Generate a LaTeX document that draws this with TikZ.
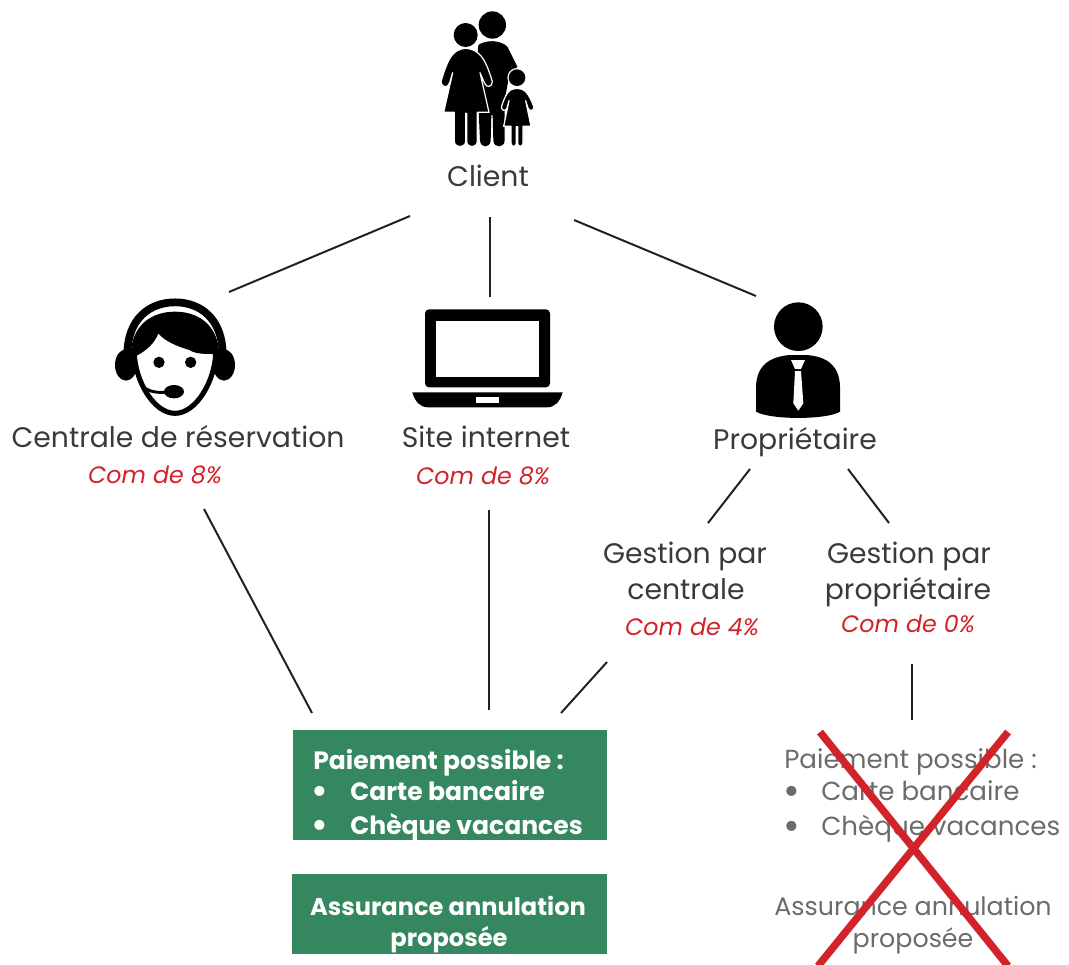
\documentclass[tikz,border=0pt]{standalone}
\usepackage{fontspec}
\setmainfont{Poppins}
\definecolor{boxgreen}{HTML}{34875F}
\definecolor{comred}{HTML}{D2232A}
\definecolor{txtgray}{HTML}{6B6B6B}
\definecolor{txtdark}{HTML}{3A3A3A}
\definecolor{linkdark}{HTML}{222222}
\tikzset{
	txt/.style={anchor=base,inner sep=0pt,font=\fontsize{21.2}{24}\selectfont,text=txtdark},
	com/.style={anchor=base,inner sep=0pt,font=\fontsize{17.8}{20}\selectfont\itshape,text=comred},
	boxtxt/.style={anchor=base,inner sep=0pt,font=\fontsize{18.1}{22}\selectfont\bfseries,text=white},
	boxleft/.style={boxtxt,anchor=base west,font=\fontsize{18.8}{22}\selectfont\bfseries},
	boxdot/.style={boxtxt,font=\fontsize{25}{28}\selectfont\bfseries},
	offtxt/.style={anchor=base,inner sep=0pt,font=\fontsize{19}{22}\selectfont,text=txtgray},
	offleft/.style={offtxt,anchor=base west,font=\fontsize{19.6}{22}\selectfont},
	offdot/.style={offtxt,font=\fontsize{25}{28}\selectfont\bfseries},
	link/.style={draw=linkdark,line width=1.5pt},
	halo/.style={fill=black,draw=white,line width=0.9pt}
}
\begin{document}
\begin{tikzpicture}[x=0.75pt,y=-0.75pt,line join=round]
	\useasboundingbox (0,0) rectangle (1069,964);
	% client
	\begin{scope}[shift={(400,0)},scale=1/3]
		\fill (277,75) circle (41);
		\fill (235,135) .. controls (255,120) and (300,118) .. (322,140) -- (352,200) -- (328,225) -- (314,300)
		-- (314,422) .. controls (312,445) and (282,445) .. (280,422) -- (278,345) -- (274,345) -- (272,422)
		.. controls (270,445) and (242,445) .. (240,422) -- (230,200) -- cycle;
		\fill[white] (197,105) circle (41);
		\fill (197,105) circle (36);
		\path[halo] (197,145) .. controls (160,148) and (145,170) .. (123,245)
		.. controls (126,265) and (144,265) .. (149,248) -- (158,218) -- (131,337) -- (163,337) -- (163,425)
		.. controls (165,445) and (195,445) .. (197,425) -- (197,340) -- (200,340) -- (200,425)
		.. controls (202,445) and (230,445) .. (232,425) -- (232,337) -- (267,337) -- (240,218) -- (253,248)
		.. controls (258,265) and (277,262) .. (277,245) .. controls (255,170) and (235,148) .. (197,145) -- cycle;
		\fill[white] (351,233) circle (29);
		\fill (351,233) circle (25);
		\path[halo] (351,265) .. controls (330,266) and (318,275) .. (304,322)
		.. controls (306,334) and (318,334) .. (321,324) -- (327,302) -- (311,379) -- (333,379) -- (333,430)
		.. controls (335,442) and (347,442) .. (349,430) -- (349,380) -- (353,380) -- (353,430)
		.. controls (355,442) and (367,442) .. (369,430) -- (369,379) -- (393,379) -- (377,302) -- (384,324)
		.. controls (388,334) and (400,334) .. (402,322) .. controls (385,275) and (372,266) .. (351,265) -- cycle;
	\end{scope}
	% central
	\begin{scope}[shift={(90,280)},scale=1/3]
		\draw[line width=5.8pt] (112,225) .. controls (112,115) and (180,67) .. (255,67) .. controls (330,67) and (398,115) .. (398,225);
		\fill (108,255) ellipse (33 and 47);
		\fill (402,255) ellipse (33 and 47);
		\fill[white] (133,220) .. controls (135,300) and (190,400) .. (255,400) .. controls (320,400) and (375,300) .. (377,220) -- cycle;
		\draw[line width=3.8pt] (133,220) .. controls (135,300) and (190,400) .. (255,400) .. controls (320,400) and (375,300) .. (377,220);
		\fill (122,225) .. controls (125,130) and (190,95) .. (255,95) .. controls (320,95) and (385,130) .. (388,225)
		-- (372,222) .. controls (345,222) and (315,222) .. (298,210) .. controls (265,200) and (225,185) .. (205,160)
		.. controls (195,190) and (165,215) .. (138,228) -- cycle;
		\fill (207,247) circle (17);
		\fill (302,247) circle (17);
		\draw[line width=2.2pt] (165,325) .. controls (190,340) and (215,338) .. (245,335);
		\fill (252,335) ellipse (30 and 20);
	\end{scope}
	% site
	\begin{scope}[shift={(400,290)},scale=1/3]
		\fill[rounded corners=3pt] (75,58) rectangle (450,292);
		\fill[white] (107,92) rectangle (417,260);
		\fill (37,307) -- (488,307) .. controls (480,335) and (465,352) .. (440,352) -- (85,352) .. controls (60,352) and (45,335) .. (37,307) -- cycle;
		\fill[white] (228,322) rectangle (297,338);
	\end{scope}
	% proprietaire
	\begin{scope}[shift={(730,290)},scale=1/3]
		\fill (205,110) circle (73);
		\fill (78,365) -- (78,290) .. controls (80,225) and (120,200) .. (180,195) -- (230,195)
		.. controls (290,200) and (328,225) .. (330,290) -- (330,365) .. controls (290,390) and (120,390) .. (78,365) -- cycle;
		\fill[white] (183,210) -- (225,210) -- (213,237) -- (195,237) -- cycle;
		\fill[white] (195,243) -- (213,243) -- (220,340) -- (205,362) -- (190,340) -- cycle;
	\end{scope}
	\fill[boxgreen] (293,730) rectangle (607,840);
	\fill[boxgreen] (292,874) rectangle (607,954);
	\path
	(488,186) node[txt] (client) {Client}
	(178,447) node[txt] (central) {Centrale de réservation}
	(155,483) node[com] (comcentral) {Com de 8\%}
	(486,447) node[txt] (site) {Site internet}
	(483,484) node[com] (comsite) {Com de 8\%}
	(795,449) node[txt] (proprio) {Propriétaire}
	(685,563) node[txt] (gescentrale) {Gestion par}
	(686,599) node[txt] (gescentrale2) {centrale}
	(692,635) node[com] (comgesc) {Com de 4\%}
	(909,563) node[txt] (gesproprio) {Gestion par}
	(908,599) node[txt] (gesproprio2) {propriétaire}
	(908,632) node[com] (comgesp) {Com de 0\%}
	(313,769) node[boxleft] (paiement) {Paiement possible :}
	(320,802) node[boxdot] (bulleta) {•}
	(350,800) node[boxleft] (carte) {Carte bancaire}
	(320,836) node[boxdot] (bulletb) {•}
	(350,834) node[boxleft] (cheque) {Chèque vacances}
	(448,915) node[boxtxt] (assurance) {Assurance annulation}
	(449,946) node[boxtxt] (proposee) {proposée}
	(784,768) node[offleft] (paiementoff) {Paiement possible :}
	(792,802) node[offdot] (bulletc) {•}
	(821,800) node[offleft] (carteoff) {Carte bancaire}
	(792,837) node[offdot] (bulletd) {•}
	(821,835) node[offleft] (chequeoff) {Chèque vacances}
	(913,915) node[offtxt] (assuranceoff) {Assurance annulation}
	(913,947) node[offtxt] (proposeeoff) {proposée}
	;
	% link ends
	\coordinate (clienta) at (410,216);
	\coordinate (clientb) at (490,217);
	\coordinate (clientc) at (574,220);
	\coordinate (centraltop) at (229,292);
	\coordinate (sitetop) at (490,297);
	\coordinate (propriotop) at (756,296);
	\coordinate (proprioa) at (750,469);
	\coordinate (propriob) at (848,469);
	\coordinate (gesctop) at (708,523);
	\coordinate (gesptop) at (889,523);
	\coordinate (centralbot) at (204,509);
	\coordinate (boxa) at (312,713);
	\coordinate (sitebot) at (489,510);
	\coordinate (boxb) at (489,710);
	\coordinate (gescbot) at (607,662);
	\coordinate (boxc) at (561,713);
	\coordinate (gespbot) at (912,664);
	\coordinate (offtop) at (912,720);
	\draw[link] (clienta)--(centraltop);
	\draw[link] (clientb)--(sitetop);
	\draw[link] (clientc)--(propriotop);
	\draw[link] (proprioa)--(gesctop);
	\draw[link] (propriob)--(gesptop);
	\draw[link] (centralbot)--(boxa);
	\draw[link] (sitebot)--(boxb);
	\draw[link] (gescbot)--(boxc);
	\draw[link] (gespbot)--(offtop);
	% cross
	\begin{scope}
		\clip (0,0) rectangle (1069,964);
		\draw[comred,line width=5.6pt] (820,732)--(1008,966);
		\draw[comred,line width=5.6pt] (1008,732)--(818,966);
	\end{scope}
\end{tikzpicture}
\end{document}
